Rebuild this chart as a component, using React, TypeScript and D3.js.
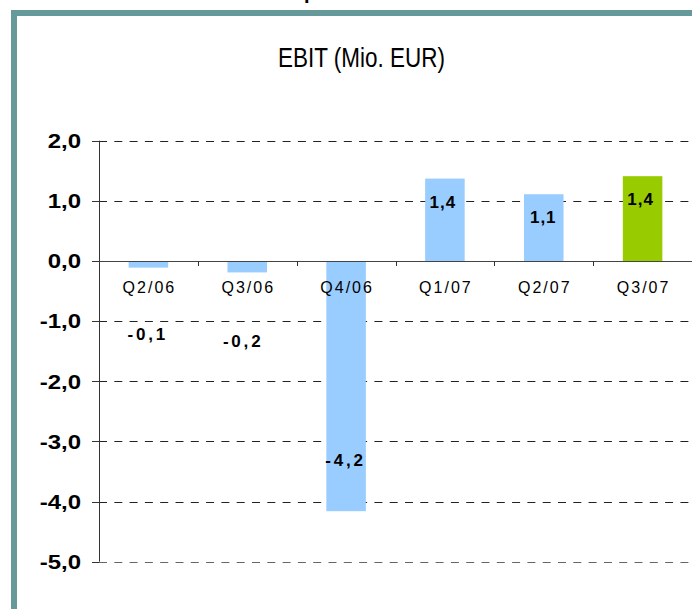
import React from "react";
import * as d3 from "d3";

const categories = ["Q2/06", "Q3/06", "Q4/06", "Q1/07", "Q2/07", "Q3/07"];
const ebit = [-0.11, -0.19, -4.16, 1.37, 1.11, 1.41];
const barColors = ["#99CCFF", "#99CCFF", "#99CCFF", "#99CCFF", "#99CCFF", "#99CC00"];
const yTicks = [2, 1, 0, -1, -2, -3, -4, -5];
const title = "EBIT (Mio. EUR)";

// label nudges relative to the bar end (layout only)
const labelDx = [-2, -5.5, -2, -2.5, -1, -2.5];
const labelDy = [72, 74.5, -45, 29, 28.5, 28.5];

const W = 692;
const H = 609;
const left = 99;
const right = 692;
const top = 140.7;
const bottom = 561.7;

const fmt = (v: number) => d3.format(".1f")(v).replace(".", ",").replace("−", "-");

export default function App() {
  const x = d3
    .scaleBand<string>()
    .domain(categories)
    .range([left, right])
    .paddingInner(0.6)
    .paddingOuter(0.3);
  const y = d3.scaleLinear().domain([-5, 2]).range([bottom, top]);
  const step = x.step();
  const font = "Arial, 'Liberation Sans', Helvetica, sans-serif";

  return (
    <div style={{ position: "fixed", left: 0, top: 0 }}>
      <svg width={W} height={H} style={{ display: "block", background: "#fff" }}>
        {/* cropped text at top */}
        <text x={304} y={-1} fontFamily={font} fontSize={20} fontWeight="bold" fill="#000">
          p
        </text>
        {/* frame */}
        <rect x={11} y={10} width={W} height={6} fill="#669999" />
        <rect x={11} y={10} width={6} height={H} fill="#669999" />

        {/* title */}
        <text
          x={278}
          y={66.5}
          fontFamily={font}
          fontSize={28}
          textLength={167}
          lengthAdjust="spacingAndGlyphs"
          fill="#000"
        >
          {title}
        </text>

        {/* gridlines */}
        {yTicks
          .filter((t) => t !== 0)
          .map((t) => (
            <line
              key={"g" + t}
              x1={left}
              x2={W}
              y1={Math.round(y(t)) + 0.5}
              y2={Math.round(y(t)) + 0.5}
              stroke={t === -5 ? "#666" : "#222"}
              strokeWidth={1}
              strokeDasharray="8,7.3"
            />
          ))}

        {/* bars */}
        {ebit.map((v, i) => {
          const x0 = x(categories[i])!;
          const y0 = y(Math.max(0, v));
          const h = Math.abs(y(v) - y(0));
          return (
            <rect
              key={"b" + i}
              x={x0}
              y={y0}
              width={x.bandwidth()}
              height={h}
              fill={barColors[i]}
            />
          );
        })}

        {/* y ticks + axis */}
        {yTicks.map((t) => (
          <line
            key={"yt" + t}
            x1={left - 7}
            x2={left}
            y1={Math.round(y(t)) + 0.5}
            y2={Math.round(y(t)) + 0.5}
            stroke="#333"
          />
        ))}
        <line x1={left + 0.5} x2={left + 0.5} y1={y(2)} y2={y(-5)} stroke="#333" />
        {/* zero line */}
        <line
          x1={left}
          x2={W}
          y1={Math.round(y(0)) + 0.5}
          y2={Math.round(y(0)) + 0.5}
          stroke="#444"
        />
        {categories.map((c, i) => {
          const xx = Math.round(left + step * (i + 1)) + 0.5;
          return (
            <line key={"xt" + i} x1={xx} x2={xx} y1={y(0)} y2={y(0) + 5} stroke="#333" />
          );
        })}

        {/* y tick labels */}
        {yTicks.map((t) => (
          <g key={"yl" + t} transform={`translate(81,${y(t) + 7.3}) scale(1.2,1)`}>
            <text
              x={0}
              y={0}
              textAnchor="end"
              fontFamily={font}
              fontWeight="bold"
              fontSize={20}
              fill="#000"
            >
              {fmt(t)}
            </text>
          </g>
        ))}

        {/* category labels */}
        {categories.map((c) => (
          <text
            key={"c" + c}
            x={x(c)! + x.bandwidth() / 2 + 1}
            y={292.5}
            textAnchor="middle"
            fontFamily={font}
            fontSize={16}
            letterSpacing={2}
            fill="#000"
          >
            {c}
          </text>
        ))}

        {/* value labels */}
        {ebit.map((v, i) => {
          const cx = x(categories[i])! + x.bandwidth() / 2 + labelDx[i];
          const ls = v < 0 ? 2.8 : 1;
          return (
            <text
              key={"v" + i}
              x={cx + ls / 2}
              y={y(v) + labelDy[i]}
              textAnchor="middle"
              fontFamily={font}
              fontWeight="bold"
              fontSize={17}
              letterSpacing={ls}
              fill="#000"
            >
              {fmt(v)}
            </text>
          );
        })}
      </svg>
    </div>
  );
}
